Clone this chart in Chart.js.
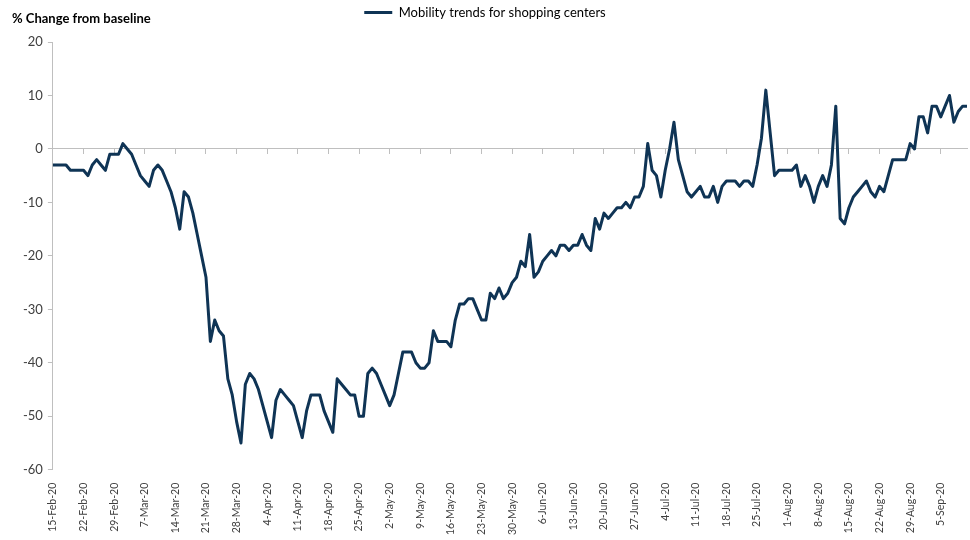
<!DOCTYPE html>
<html lang="en">
<head>
<meta charset="utf-8">
<title>Mobility trends for shopping centers</title>
<script src="https://cdn.jsdelivr.net/npm/chart.js"></script>
<style>
	body{ margin:0; background:#fff; }
	.wrap{ position:relative; width:970px; height:540px; }
	.y_title{ position:absolute; left:12px; top:10px; font:bold 13px Lato, sans-serif; color:#000; }
</style>
</head>
<body>
<div class="wrap">
	<div class="y_title">% Change from baseline</div>
	<canvas id="myChart" width="970" height="540"></canvas>
</div>
<script>
// first day of the series and how many days
const startDate = '2020-02-15';
const dayCount = 210;

// weekly labels shown under the chart
const tickLabels = [
	'15-Feb-20','22-Feb-20','29-Feb-20','7-Mar-20','14-Mar-20','21-Mar-20','28-Mar-20',
	'4-Apr-20','11-Apr-20','18-Apr-20','25-Apr-20','2-May-20','9-May-20','16-May-20',
	'23-May-20','30-May-20','6-Jun-20','13-Jun-20','20-Jun-20','27-Jun-20','4-Jul-20',
	'11-Jul-20','18-Jul-20','25-Jul-20','1-Aug-20','8-Aug-20','15-Aug-20','22-Aug-20',
	'29-Aug-20','5-Sep-20'
];

// % change from baseline, one value a day (15-Feb-20 .. 11-Sep-20)
const shopping = [
	-3,-3,-3,-3,-4,-4,-4,-4,-5,-3,
	-2,-3,-4,-1,-1,-1,1,0,-1,-3,
	-5,-6,-7,-4,-3,-4,-6,-8,-11,-15,
	-8,-9,-12,-16,-20,-24,-36,-32,-34,-35,
	-43,-46,-51,-55,-44,-42,-43,-45,-48,-51,
	-54,-47,-45,-46,-47,-48,-51,-54,-49,-46,
	-46,-46,-49,-51,-53,-43,-44,-45,-46,-46,
	-50,-50,-42,-41,-42,-44,-46,-48,-46,-42,
	-38,-38,-38,-40,-41,-41,-40,-34,-36,-36,
	-36,-37,-32,-29,-29,-28,-28,-30,-32,-32,
	-27,-28,-26,-28,-27,-25,-24,-21,-22,-16,
	-24,-23,-21,-20,-19,-20,-18,-18,-19,-18,
	-18,-16,-18,-19,-13,-15,-12,-13,-12,-11,
	-11,-10,-11,-9,-9,-7,1,-4,-5,-9,
	-4,0,5,-2,-5,-8,-9,-8,-7,-9,
	-9,-7,-10,-7,-6,-6,-6,-7,-6,-6,
	-7,-3,2,11,3,-5,-4,-4,-4,-4,
	-3,-7,-5,-7,-10,-7,-5,-7,-3,8,
	-13,-14,-11,-9,-8,-7,-6,-8,-9,-7,
	-8,-5,-2,-2,-2,-2,1,0,6,6,
	3,8,8,6,8,10,5,7,8,8
];

const lineColor = '#0f3455';
const axisColor = '#bfbfbf';
const textColor = '#404040';

// day labels, one per value
const months = ['Jan','Feb','Mar','Apr','May','Jun','Jul','Aug','Sep','Oct','Nov','Dec'];
const labels = [];
let d = new Date(startDate + 'T00:00:00Z');
for(let i = 0; i < dayCount; i++){
	labels.push(d.getUTCDate() + '-' + months[d.getUTCMonth()] + '-20');
	d.setUTCDate(d.getUTCDate() + 1);
}

const chart_data = {
	labels: labels,
	datasets: [{
		label: 'Mobility trends for shopping centers',
		data: shopping,
		borderColor: lineColor,
		backgroundColor: lineColor,
		borderWidth: 3,
		pointRadius: 0,
		tension: 0,
		borderJoinStyle: 'round',
		xAxisID: 'x',
		yAxisID: 'y'
	}]
};

// extra room under the legend
const legendMargin = {
	id: 'legendMargin',
	beforeInit: function(chart){
		const fit = chart.legend.fit;
		chart.legend.fit = function(){
			fit.bind(chart.legend)();
			this.height += 13;
		};
	}
};

const config = {
	type: 'line',
	data: chart_data,
	plugins: [legendMargin],
	options: {
		responsive: false,
		animation: false,
		layout: { padding: { left: 3, right: 3, top: 0, bottom: 0 } },
		plugins: {
			legend: {
				position: 'top',
				labels: {
					boxWidth: 28,
					boxHeight: 3,
					padding: 6,
					color: '#000',
					font: { family: 'Lato', size: 13 },
					generateLabels: function(chart){
						return Chart.defaults.plugins.legend.labels.generateLabels(chart).map(function(l){
							l.lineWidth = 0;
							return l;
						});
					}
				}
			},
			tooltip: { enabled: false }
		},
		scales: {
			x: {
				type: 'category',
				position: 'bottom',
				grid: { display: false },
				border: { display: false },
				ticks: {
					autoSkip: false,
					maxRotation: 90,
					minRotation: 90,
					padding: 5,
					color: textColor,
					font: { family: 'Lato', size: 10.5 },
					callback: function(value, index){
						return index % 7 === 0 ? tickLabels[index / 7] : null;
					}
				}
			},
			// axis line drawn through zero, with weekly tick marks
			x2: {
				type: 'category',
				position: { y: 0 },
				grid: {
					drawOnChartArea: false,
					drawTicks: true,
					tickLength: 5,
					color: function(ctx){ return ctx.index % 7 === 0 ? axisColor : 'rgba(0,0,0,0)'; }
				},
				border: { display: true, color: axisColor, width: 1 },
				ticks: { display: false, autoSkip: false }
			},
			y: {
				min: -60,
				max: 20,
				afterFit: function(scale){ scale.width += 15; },
				ticks: {
					stepSize: 10,
					padding: 5,
					color: textColor,
					font: { family: 'Lato', size: 13 }
				},
				grid: { drawOnChartArea: false, drawTicks: true, tickLength: 5, color: axisColor },
				border: { display: true, color: axisColor, width: 1 }
			}
		}
	}
};

var myChart = new Chart(document.getElementById('myChart'), config);
</script>
</body>
</html>
